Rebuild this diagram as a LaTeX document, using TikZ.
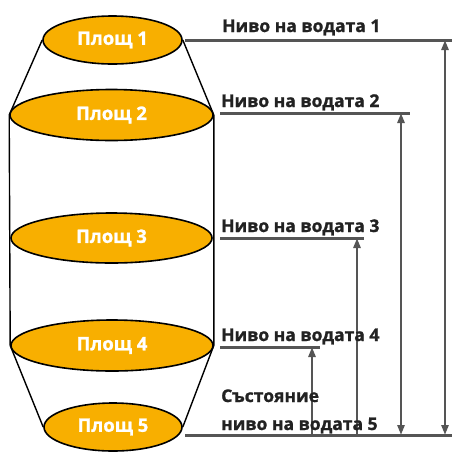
\documentclass[tikz,border=0pt]{standalone}
\usepackage{fontspec}
\setmainfont[BoldFeatures={FakeBold=1.2}]{Open Sans}
\usetikzlibrary{shapes.geometric,arrows.meta}
\definecolor{areafill}{HTML}{F8AF00}
\definecolor{levelgray}{HTML}{555555}
\definecolor{captiontext}{HTML}{222222}
\tikzset{
  area/.style={ellipse, draw=black, line width=1.6pt, fill=areafill,
    inner sep=0pt, text=white, font=\fontsize{18.5}{20}\selectfont\bfseries},
  wall/.style={draw=black, line width=1.4pt},
  level/.style={draw=levelgray, line width=3pt},
  gauge/.style={draw=levelgray, line width=2.8pt},
  tip/.tip={Triangle[length=10pt,width=7pt]},
  label/.style={anchor=base west, inner sep=0pt, text=captiontext,
    font=\fontsize{17.5}{19}\selectfont\bfseries, align=left}
}
\begin{document}
\begin{tikzpicture}[x=1pt,y=-1pt]
\useasboundingbox (0,0) rectangle (452,451);

% tank cross-sections
\node[area, minimum width=139pt, minimum height=48pt] (a1) at (112.5,40) {Площ 1};
\node[area, minimum width=203pt, minimum height=51pt] (a2) at (111.5,115) {Площ 2};
\node[area, minimum width=201pt, minimum height=50pt] (a3) at (111.5,238) {Площ 3};
\node[area, minimum width=202pt, minimum height=51pt] (a4) at (112,345.5) {Площ 4};
\node[area, minimum width=138pt, minimum height=48pt] (a5) at (113,427) {Площ 5};

% tank walls
\draw[wall] (a1.west) -- (a2.west) -- (a4.west) -- (a5.west);
\draw[wall] (a1.east) -- (a2.east) -- (a4.east) -- (a5.east);

% water level lines
\coordinate (l1a) at (185,40);   \coordinate (l1b) at (452,40);
\coordinate (l2a) at (220,113);  \coordinate (l2b) at (410,113);
\coordinate (l3a) at (220,238);  \coordinate (l3b) at (364,238);
\coordinate (l4a) at (220,347);  \coordinate (l4b) at (320,347);
\coordinate (l5a) at (185,435);  \coordinate (l5b) at (452,435);
\draw[level] (l1a) -- (l1b);
\draw[level] (l2a) -- (l2b);
\draw[level] (l3a) -- (l3b);
\draw[level] (l4a) -- (l4b);
\draw[level] (l5a) -- (l5b);

% gauge arrows
\coordinate (g1t) at (445,40);  \coordinate (g1b) at (445,435);
\coordinate (g2t) at (401,113); \coordinate (g2b) at (401,435);
\coordinate (g3t) at (357,238); \coordinate (g3b) at (357,435);
\coordinate (g4t) at (312,347); \coordinate (g4b) at (312,435);
\draw[gauge, {tip}-{tip}] (g1t) -- (g1b);
\draw[gauge, {tip}-{tip}] (g2t) -- (g2b);
\draw[gauge, {tip}-] (g3t) -- (g3b);
\draw[gauge, {tip}-] (g4t) -- (g4b);

% level captions
\node[label] (t1) at (222,32) {Ниво на водата 1};
\node[label] (t2) at (221,107) {Ниво на водата 2};
\node[label] (t3) at (221,232) {Ниво на водата 3};
\node[label] (t4) at (221,341) {Ниво на водата 4};
\node[label] (t5a) at (221,402) {Състояние};
\node[label] (t5b) at (221,430) {ниво на водата 5};
\end{tikzpicture}
\end{document}
